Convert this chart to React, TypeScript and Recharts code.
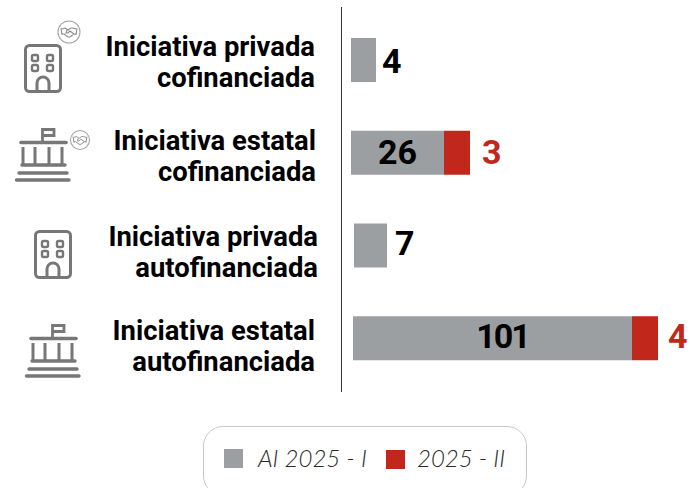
import React from "react";
import { BarChart, Bar, XAxis, YAxis, Legend, LabelList } from "recharts";

const categories = [
  "Iniciativa privada cofinanciada",
  "Iniciativa estatal cofinanciada",
  "Iniciativa privada autofinanciada",
  "Iniciativa estatal autofinanciada",
];
const firstPeriod = [4, 26, 7, 101];
const secondPeriod = [0, 3, 0, 4];
const seriesNames = ["AI 2025 - I", "2025 - II"];

const data = categories.map((category, i) => ({
  category,
  first: firstPeriod[i],
  second: secondPeriod[i],
}));

const GREY = "#9c9fa2";
const RED = "#c1271b";
const ICON = "#777777";
const FONT = "Roboto, 'Noto Sans', sans-serif";

// The source chart does not draw its bars proportionally: the axis is a
// piecewise scale from value to drawn length.
const scaleKnots = [0, 4, 7, 26, 29, 101, 105];
const scaleLengths = [0, 25, 33, 93, 119, 279, 305];
// Small per-row adjustments, as in the source.
const rowShift = [0, 0, 3, 2];
const labelDx = [0, 0, 2, 10];
const labelDy = [1, -1, -3, -2];
const textDy = [-1, 0, 4, 5];
const labelRight = [315, 316, 318, 315];

function makeScale() {
  let dom = [0, 105];
  let rng = [0, 1];
  const s: any = (v: number) => {
    const k = scaleKnots;
    const l = scaleLengths;
    let len = l[l.length - 1];
    for (let i = 1; i < k.length; i++) {
      if (v <= k[i]) {
        len = l[i - 1] + ((v - k[i - 1]) / (k[i] - k[i - 1])) * (l[i] - l[i - 1]);
        break;
      }
    }
    return rng[0] + (len / l[l.length - 1]) * (rng[1] - rng[0]);
  };
  s.domain = (d?: number[]) => {
    if (d === undefined) return dom;
    dom = d;
    return s;
  };
  s.range = (r?: number[]) => {
    if (r === undefined) return rng;
    rng = r;
    return s;
  };
  s.copy = () => makeScale().domain(dom).range(rng);
  s.ticks = () => scaleKnots;
  s.tickFormat = () => (v: number) => String(v);
  return s;
}

const Building = ({ x, y }: { x: number; y: number }) => (
  <g transform={`translate(${x},${y})`} fill="none" stroke={ICON} strokeWidth={3}>
    <rect x={1.5} y={1.5} width={35} height={46} rx={4} />
    {[[8, 11], [23, 11], [8, 21], [23, 21]].map(([a, b], i) => (
      <rect key={i} x={a} y={b} width={6} height={6} rx={1.5} strokeWidth={2.4} />
    ))}
    <path d="M13 47 V39 a6 6 0 0 1 12 0 V47" />
  </g>
);

const Government = ({ x, y }: { x: number; y: number }) => (
  <g transform={`translate(${x},${y})`} fill="none" stroke={ICON} strokeWidth={3.4} strokeLinecap="round">
    <path d="M27.5 15 V2.5 H39 V8.5 H27.5" strokeWidth={2.8} strokeLinecap="butt" />
    <path d="M6 15.5 H51" strokeWidth={3.6} />
    <path d="M8 20 V38 M20 20 V38 M34 20 V38 M47 20 V38" strokeWidth={3} strokeLinecap="butt" />
    <path d="M7 38 H50" />
    <path d="M4 46 H52" />
    <path d="M1.5 53 H54" />
  </g>
);

const Badge = ({ x, y, r }: { x: number; y: number; r: number }) => (
  <g transform={`translate(${x},${y})`} fill="none" stroke="#8a8a8a" strokeWidth={1.1}>
    <circle r={r} stroke="#a5a5a5" />
    <g transform={`scale(${r / 11})`}>
      <path d="M-7 -3 L-4 -4 L-1 -2 L2 -4 L4 -4 L7 -3 M-7 2 L-5 2 L-1 5 L1 5 L5 2 L7 2 M-2 -2 L-3 1 L-1 1 L1 -1 L5 2 M-8 -4 L-7 3 M8 -4 L7 3" />
    </g>
  </g>
);

const iconLayouts = [
  { kind: "b", x: 24, y: 44, badge: { x: 69, y: 32, r: 11 } },
  { kind: "g", x: 15, y: 127, badge: { x: 80, y: 140, r: 9.5 } },
  { kind: "b", x: 34, y: 230 },
  { kind: "g", x: 25, y: 323 },
];

const CategoryTick = (props: any) => {
  const { y, payload, index } = props;
  const words = String(payload.value).split(" ");
  const line2 = words.pop();
  const line1 = words.join(" ");
  const ic = iconLayouts[index];
  const right = labelRight[index];
  const dy = textDy[index];
  return (
    <g>
      {ic.kind === "b" ? <Building x={ic.x} y={ic.y} /> : <Government x={ic.x} y={ic.y} />}
      {ic.badge ? <Badge {...ic.badge} /> : null}
      <text x={right} y={y - 3.5 + dy} textAnchor="end" fontFamily={FONT} fontWeight={700} fontSize={27.4} fill="#000">
        {line1}
      </text>
      <text x={right} y={y + 27.5 + dy} textAnchor="end" fontFamily={FONT} fontWeight={700} fontSize={27.4} fill="#000">
        {line2}
      </text>
    </g>
  );
};

const ShiftedBar = (props: any) => {
  const { x, y, width, height, fill, index } = props;
  if (!width || width <= 0) return null;
  return <rect x={x + rowShift[index]} y={y} width={width} height={height} fill={fill} />;
};

const FirstLabel = (props: any) => {
  const { x, y, width, height, value, index } = props;
  const wide = value > 10;
  const left = x + rowShift[index];
  return (
    <text
      x={(wide ? left + width / 2 : left + width + 6) + labelDx[index]}
      y={y + height / 2 + 12 + labelDy[index]}
      textAnchor={wide ? "middle" : "start"}
      fontFamily={FONT}
      fontWeight={700}
      fontSize={34}
      letterSpacing={value > 100 ? -2 : 0}
      fill="#000"
    >
      {value}
    </text>
  );
};

const SecondLabel = (props: any) => {
  const { x, y, width, height, value, index } = props;
  if (!value) return null;
  return (
    <text
      x={x + rowShift[index] + width + (index === 1 ? 12 : 10)}
      y={y + height / 2 + 12 + labelDy[index]}
      fontFamily={FONT}
      fontWeight={700}
      fontSize={34}
      fill={RED}
    >
      {value}
    </text>
  );
};

const LegendBox = ({ payload }: any) => {
  const offsets = [
    { sq: 20, sqTop: 22, text: 54 },
    { sq: 182, sqTop: 23, text: 213 },
  ];
  const items = seriesNames.map((n) => (payload || []).find((p: any) => p.value === n)).filter(Boolean);
  return (
    <div style={{ position: "relative", width: 322, height: 68, border: "1px solid #c9c9c9", borderRadius: 20, background: "#fff" }}>
      {items.map((p: any, i: number) => (
        <React.Fragment key={i}>
          <span style={{ position: "absolute", left: offsets[i].sq, top: offsets[i].sqTop, width: 19, height: 19, background: p.color }} />
          <span
            style={{
              position: "absolute",
              left: offsets[i].text,
              top: 15,
              fontFamily: "Lato, sans-serif",
              fontStyle: "italic",
              fontWeight: 300,
              fontSize: 24,
              lineHeight: "32px",
              color: "#2b2b2b",
              whiteSpace: "nowrap",
            }}
          >
            {p.value}
          </span>
        </React.Fragment>
      ))}
    </div>
  );
};

const xScale = makeScale();

export default function App() {
  return (
    <div style={{ position: "absolute", left: 0, top: 0, width: 693, height: 488, overflow: "hidden" }}>
      <BarChart
        width={693}
        height={488}
        data={data}
        layout="vertical"
        margin={{ top: 7, right: 37, bottom: 96, left: 0 }}
        barSize={44}
      >
        <XAxis type="number" hide domain={[0, 105]} scale={xScale} padding={{ left: 9.5, right: 0 }} />
        <YAxis
          type="category"
          dataKey="category"
          width={341.5}
          axisLine={{ stroke: "#333333", strokeWidth: 1 }}
          tickLine={false}
          interval={0}
          padding={{ top: 7, bottom: 7 }}
          tick={<CategoryTick />}
        />
        <Legend
          layout="horizontal"
          verticalAlign="middle"
          wrapperStyle={{ left: 203, top: 426, width: 324, height: 70, bottom: "auto" }}
          content={<LegendBox />}
        />
        <Bar dataKey="first" name={seriesNames[0]} stackId="a" fill={GREY} shape={<ShiftedBar />} isAnimationActive={false}>
          <LabelList dataKey="first" content={<FirstLabel />} />
        </Bar>
        <Bar dataKey="second" name={seriesNames[1]} stackId="a" fill={RED} shape={<ShiftedBar />} isAnimationActive={false}>
          <LabelList dataKey="second" content={<SecondLabel />} />
        </Bar>
      </BarChart>
    </div>
  );
}
